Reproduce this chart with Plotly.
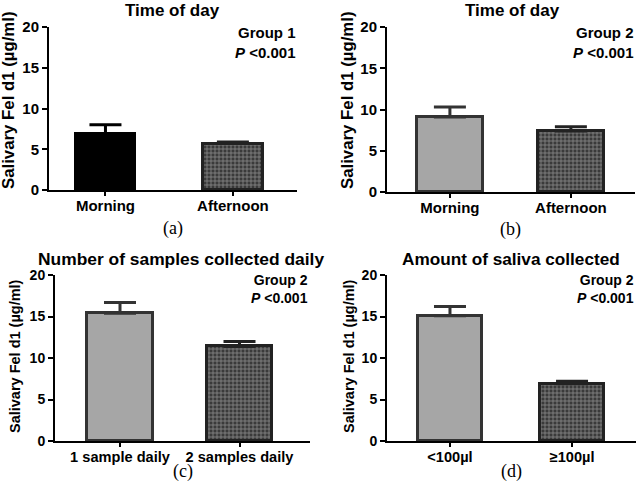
import plotly.graph_objects as go

# ---- data ----
cats_a = ["Morning", "Afternoon"]
vals_a = [6.9, 5.7]
err_a = [1.1, 0.2]

cats_b = ["Morning", "Afternoon"]
vals_b = [9.1, 7.4]
err_b = [1.2, 0.5]

cats_c = ["1 sample daily", "2 samples daily"]
vals_c = [15.4, 11.4]
err_c = [1.3, 0.6]

cats_d = ["<100µl", "≥100µl"]
vals_d = [15.1, 6.9]
err_d = [1.1, 0.3]

titles = ["Time of day", "Time of day", "Number of samples collected daily", "Amount of saliva collected"]
groups = ["Group 1", "Group 2", "Group 2", "Group 2"]
captions = ["(a)", "(b)", "(c)", "(d)"]
y_title = "Salivary Fel d1 (µg/ml)"
y_ticks = [0, 5, 10, 15, 20]

W, H = 641, 486
def px(x): return x / W
def py(y): return 1 - y / H

panels = [
    dict(c=cats_a, v=vals_a, e=err_a, x0=49, x1=297, ytop=27, ybot=190, rng=[-0.443, 1.503], bw=0.47,
         first="#000000", fs=14, cfs=15, ytx=9, yts=16.8, yty=100, tcx=172, tfs=17),
    dict(c=cats_b, v=vals_b, e=err_b, x0=387, x1=635, ytop=27, ybot=192, rng=[-0.52, 1.53], bw=0.54,
         first="#a6a6a6", fs=14, cfs=15, ytx=348, yts=16.8, yty=100, tcx=512, tfs=17),
    dict(c=cats_c, v=vals_c, e=err_c, x0=55, x1=310, ytop=275, ybot=441, rng=[-0.544, 1.59], bw=0.55,
         first="#a6a6a6", fs=13, cfs=14.6, ytx=15, yts=14.5, yty=356, tcx=181, tfs=17.4),
    dict(c=cats_d, v=vals_d, e=err_d, x0=387, x1=636, ytop=275, ybot=441, rng=[-0.516, 1.524], bw=0.53,
         first="#a6a6a6", fs=13, cfs=14.6, ytx=349, yts=14.5, yty=356, tcx=511, tfs=17.2),
]

fig = go.Figure()
font_b = "Liberation Sans"
annotations = []
for i, p in enumerate(panels):
    n = "" if i == 0 else str(i + 1)
    xa, ya = "x" + n, "y" + n
    line_first = "#000000" if p["first"] == "#000000" else "#333333"
    fig.add_trace(go.Bar(
        x=[p["c"][0]], y=[p["v"][0]], xaxis=xa, yaxis=ya, width=p["bw"],
        marker=dict(color=p["first"], line=dict(color=line_first, width=3)),
        error_y=dict(type="data", array=[p["e"][0]], arrayminus=[0], symmetric=False,
                     color=line_first, thickness=3, width=16),
        showlegend=False, hoverinfo="skip"))
    fig.add_trace(go.Bar(
        x=[p["c"][1]], y=[p["v"][1]], xaxis=xa, yaxis=ya, width=p["bw"],
        marker=dict(color="#9a9a9a", line=dict(color="#222222", width=3),
                    pattern=dict(shape="+", bgcolor="#3a3a3a", fgcolor="#8a8a8a",
                                 size=4, solidity=0.35, fillmode="replace")),
        error_y=dict(type="data", array=[p["e"][1]], arrayminus=[0], symmetric=False,
                     color="#222222", thickness=3, width=16),
        showlegend=False, hoverinfo="skip"))
    dom_x = [px(p["x0"]), px(p["x1"])]
    dom_y = [py(p["ybot"]), py(p["ytop"])]
    fig.update_layout(**{
        ("xaxis" + n): dict(domain=dom_x, anchor=ya, type="category", categoryorder="array",
                            categoryarray=p["c"], range=p["rng"], showline=True, linecolor="#000",
                            linewidth=2, ticks="outside", ticklen=4, tickwidth=2, tickcolor="#000",
                            showgrid=False, zeroline=False, automargin=False, ticklabelstandoff=-3,
                            tickfont=dict(family=font_b, size=p["cfs"], color="#000", weight="bold")),
        ("yaxis" + n): dict(domain=dom_y, anchor=xa, range=[0, 20], tickvals=y_ticks,
                            showline=True, linecolor="#000", linewidth=2, ticks="outside",
                            ticklen=5, tickwidth=2, tickcolor="#000", showgrid=False, zeroline=False,
                            automargin=False,
                            tickfont=dict(family=font_b, size=p["fs"] + 1, color="#000", weight="bold")),
    })
    cx = (p["x0"] + p["x1"]) / 2
    annotations.append(dict(text="<b>" + titles[i] + "</b>", x=px(p["tcx"]),
                            y=py(p["ytop"] - 16),
                            xref="paper", yref="paper", showarrow=False, xanchor="center", yanchor="middle",
                            font=dict(family=font_b, size=p["tfs"], color="#000")))
    annotations.append(dict(text="<b>" + groups[i] + "</b><br><b><i>P</i> &lt;0.001</b>",
                            x=px(p["x1"]), y=py(p["ytop"] - 5), xref="paper", yref="paper",
                            showarrow=False, xanchor="right", yanchor="top", align="right",
                            font=dict(family=font_b, size=p["fs"] + 1, color="#000")))
    annotations.append(dict(text="<b>" + y_title + "</b>", x=px(p["ytx"]),
                            y=py(p["yty"]),
                            xref="paper", yref="paper", showarrow=False, textangle=-90,
                            xanchor="center", yanchor="middle",
                            font=dict(family=font_b, size=p["yts"], color="#000")))
    annotations.append(dict(text=captions[i], x=px(cx), y=py(p["ybot"] + 38 if i < 2 else p["ybot"] + 30),
                            xref="paper", yref="paper", showarrow=False, xanchor="center", yanchor="middle",
                            font=dict(family="Liberation Serif", size=18, color="#000")))

fig.update_layout(width=W, height=H, margin=dict(l=0, r=0, t=0, b=0, autoexpand=False),
                  plot_bgcolor="white", paper_bgcolor="white", annotations=annotations,
                  bargap=0)
fig.write_html("out.html", config={"displayModeBar": False},
               post_script="document.body.style.margin='0';document.body.style.overflow='hidden';")
